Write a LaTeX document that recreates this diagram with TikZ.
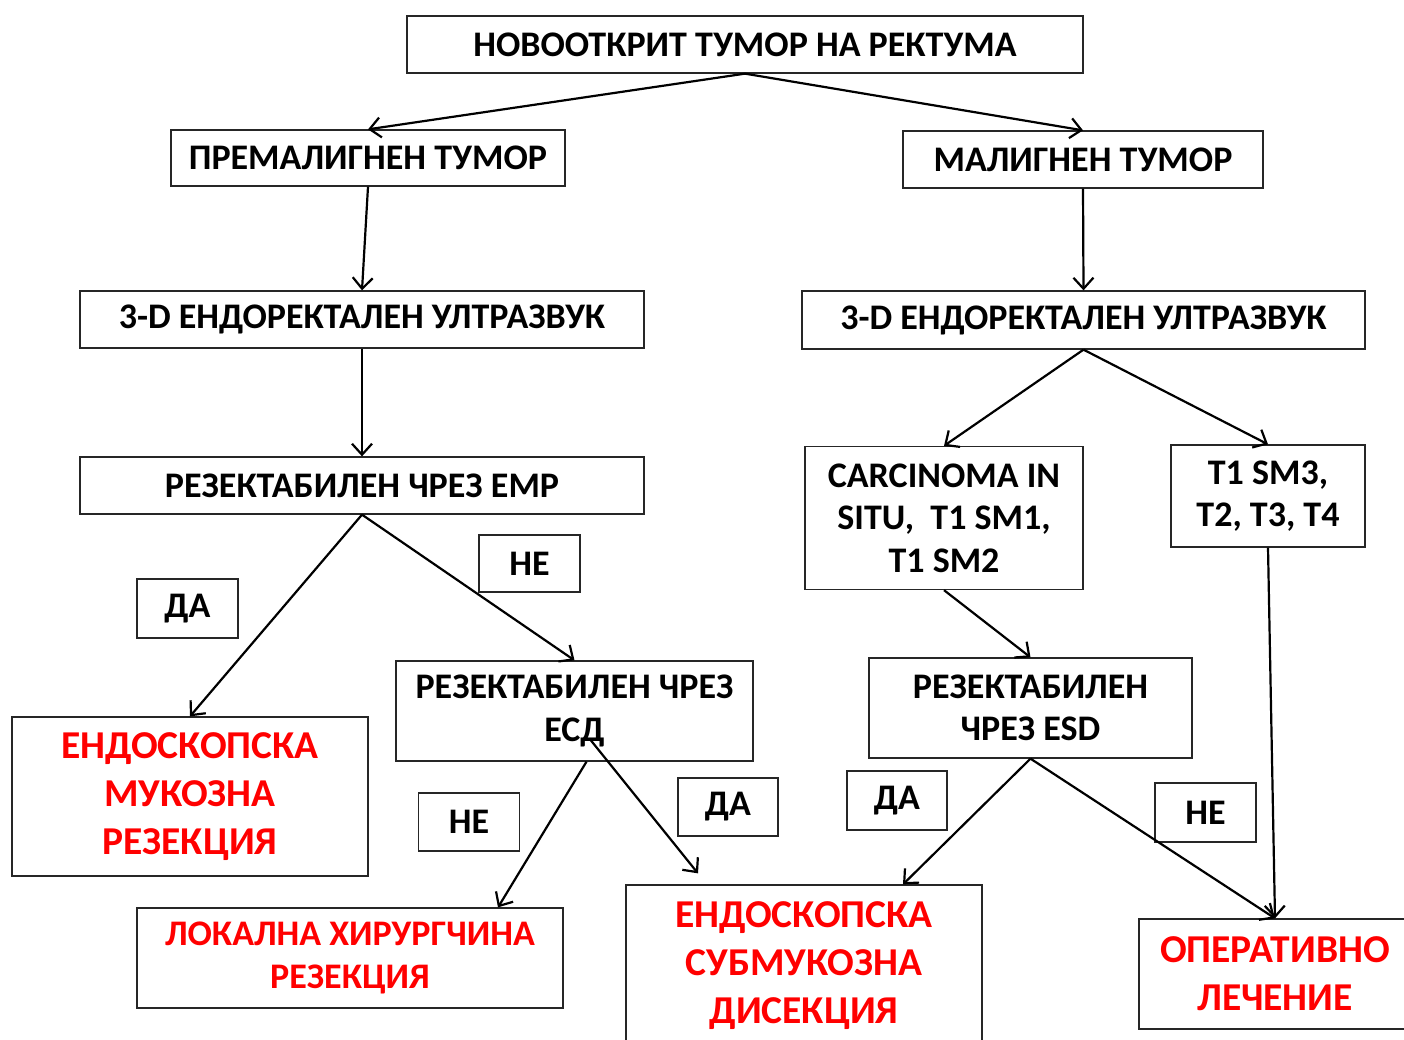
\documentclass[tikz,border=0pt]{standalone}
\usepackage{fontspec}
\setmainfont{Carlito}
\usepackage{tikz}
\usetikzlibrary{arrows.meta,calc}

\begin{document}
\begin{tikzpicture}[
  x=1pt,y=-1pt,
  box/.style={draw=black!85,line width=1.3pt,align=center,inner sep=0pt,font=\bfseries\fontsize{36}{42.5}\selectfont},
  redbox/.style={box,text=red,font=\bfseries\fontsize{39.5}{48}\selectfont},
  lbl/.style={box,minimum width=101pt,minimum height=58pt},
  arrow/.style={-{Straight Barb[length=11pt,width=20pt]},line width=2.2pt}
]
\useasboundingbox (0,0) rectangle (1404,1039);
% top levels
\node[box,minimum width=676pt,minimum height=57pt] (new) at (745,44.5) {НОВООТКРИТ ТУМОР НА РЕКТУМА};
\node[box,minimum width=394pt,minimum height=56pt] (premal) at (368,158) {ПРЕМАЛИГНЕН ТУМОР};
\node[box,minimum width=360pt,minimum height=57pt] (mal) at (1083,159.5) {МАЛИГНЕН ТУМОР};
\node[box,minimum width=564pt,minimum height=57pt] (usleft) at (362,319.5) {3-D ЕНДОРЕКТАЛЕН УЛТРАЗВУК};
\node[box,minimum width=563pt,minimum height=58pt] (usright) at (1083.5,320) {3-D ЕНДОРЕКТАЛЕН УЛТРАЗВУК};
% left branch
\node[box,minimum width=564pt,minimum height=57pt] (emp) at (362,485.5) {РЕЗЕКТАБИЛЕН ЧРЕЗ ЕМР};
\node[lbl,minimum height=59pt] (yesA) at (187.5,608.5) {ДА};
\node[lbl,minimum height=57pt] (noA) at (529.5,563.5) {НЕ};
\node[box,minimum width=357pt,minimum height=100pt] (esdbg) at (574.5,711) {РЕЗЕКТАБИЛЕН ЧРЕЗ\\ЕСД};
\node[redbox,minimum width=356pt,minimum height=159pt] (emr) at (190,796.5) {ЕНДОСКОПСКА\\МУКОЗНА\\РЕЗЕКЦИЯ};
\node[lbl] (noB) at (469,822) {НЕ};
\node[lbl,minimum width=100pt] (yesB) at (728,807) {ДА};
\node[box,text=red,minimum width=426pt,minimum height=100pt] (local) at (350,958) {ЛОКАЛНА ХИРУРГЧИНА\\РЕЗЕКЦИЯ};
\node[redbox,minimum width=356pt,minimum height=161pt] (esdred) at (804,965.5) {ЕНДОСКОПСКА\\СУБМУКОЗНА\\ДИСЕКЦИЯ};
% right branch
\node[box,minimum width=278pt,minimum height=143pt] (cis) at (944,518) {CARCINOMA IN\\SITU,\ \ T1 SM1,\\T1 SM2};
\node[box,minimum width=194pt,minimum height=102pt] (sm3) at (1268,496) {T1 SM3,\\T2, T3, T4};
\node[box,minimum width=323pt,minimum height=100pt] (esd) at (1030.5,708) {РЕЗЕКТАБИЛЕН\\ЧРЕЗ ESD};
\node[lbl,minimum width=100pt,minimum height=59pt] (yesC) at (897,800.5) {ДА};
\node[lbl,minimum height=59pt] (noC) at (1205.5,812.5) {НЕ};
\node[redbox,minimum width=272pt,minimum height=110pt] (oper) at (1275,974) {ОПЕРАТИВНО\\ЛЕЧЕНИЕ};

\draw[arrow] (new.south) -- (premal.north);
\draw[arrow] (new.south) -- (mal.north);
\draw[arrow] (premal.south) -- (usleft.north);
\draw[arrow] (mal.south) -- (usright.north);
\draw[arrow] (usleft.south) -- (emp.north);
\draw[arrow] (usright.south) -- (cis.north);
\draw[arrow] (usright.south) -- (sm3.north);
\draw[arrow] (emp.south) -- (emr.north);
\draw[arrow] (emp.south) -- (esdbg.north);
\draw[arrow] ([xshift=12pt]esdbg.south) -- ([xshift=148pt]local.north);
\draw[arrow] ([xshift=15pt,yshift=23pt]esdbg.south) -- ([xshift=-106pt,yshift=11pt]esdred.north);
\draw[arrow] (cis.south) -- (esd.north);
\draw[arrow] (sm3.south) -- (oper.north);
\draw[arrow] (esd.south) -- ([xshift=99pt]esdred.north);
\draw[arrow] (esd.south) -- (oper.north);
\end{tikzpicture}
\end{document}
